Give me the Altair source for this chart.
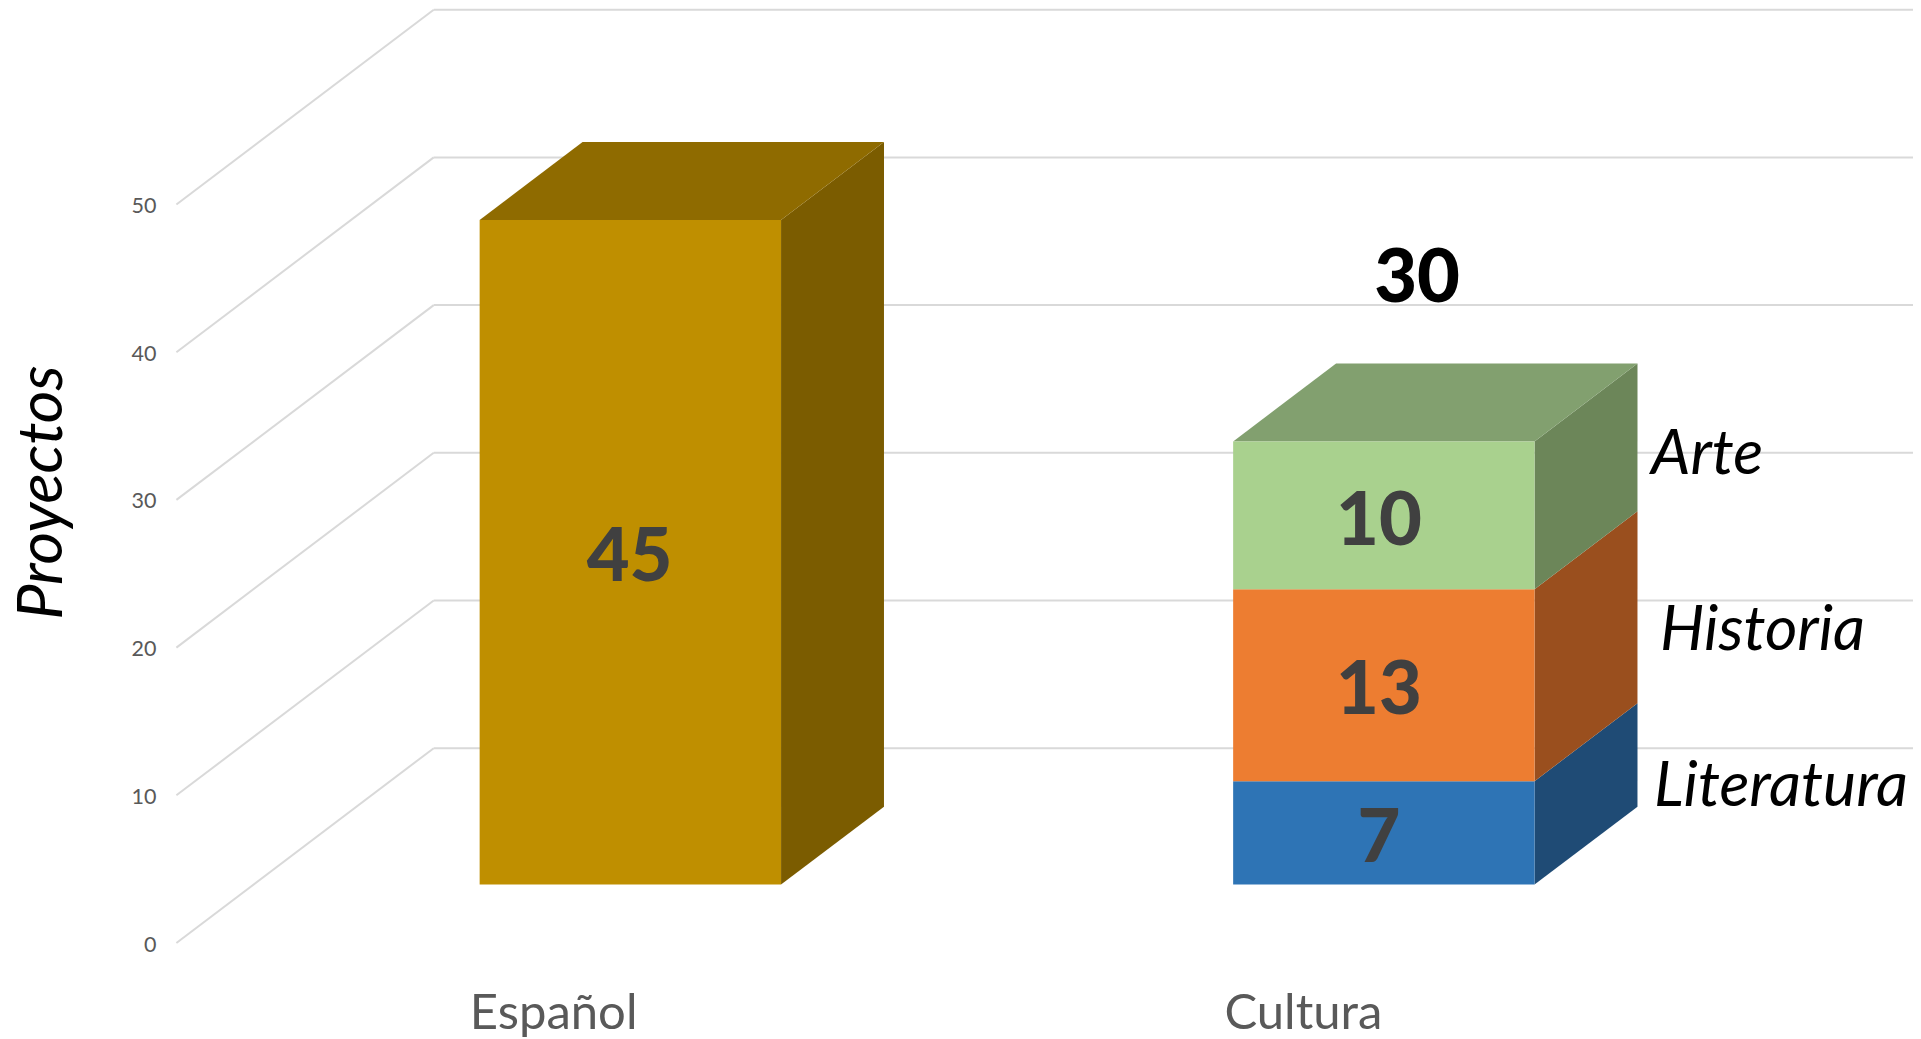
import altair as alt
import pandas as pd

# ---- values
categories = ["Español", "Cultura"]
espanol_value = [45]
cultura_series = ["Literatura", "Historia", "Arte"]
cultura_values = [7, 13, 10]
cultura_total = [30]
y_ticks = [0, 10, 20, 30, 40, 50]

# ---- styles
FONT = "Lato"
C_ESP = ("#BF8F00", "#7B5C00", "#8F6B00")
C_SER = {
    "Literatura": ("#2E74B5", "#1F4B75", "#2E74B5"),
    "Historia": ("#ED7D31", "#9A4F1E", "#ED7D31"),
    "Arte": ("#A9D18E", "#6C8659", "#82A06F"),
}
GRID = "#D9D9D9"

# ---- 3D layout (oblique projection, in scale units)
W, H = 1905, 1031
PX_X, PX_Y = 753.5, 14.77       # px per category slot / per value unit
X0, Y0 = 168.4, 935.0           # where slot 0 / value 0 fall on the plot
DX, DY = 0.3415, 13.19          # shift of the whole floor depth
GAP, BAR = 0.3, 0.4             # bar inset and width inside a slot
Z0, Z1 = 0.3, 0.7               # depth range of the bars

x_scale = alt.Scale(domain=[-X0 / PX_X, (W - X0) / PX_X], nice=False, zero=False)
y_scale = alt.Scale(domain=[(Y0 - H) / PX_Y, Y0 / PX_Y], nice=False, zero=False)


def px(u, z):
    return u + z * DX


def py(v, z):
    return v + z * DY


# grid: diagonal on the side wall + horizontal on the back wall
grid = []
for t in y_ticks:
    grid.append(dict(x=px(0, 0), y=py(t, 0), x2=px(0, 1), y2=py(t, 1)))
    grid.append(dict(x=px(0, 1), y=py(t, 1), x2=px(2, 1), y2=py(t, 1)))
grid = pd.DataFrame(grid)

# boxes
boxes = [(0, categories[0], 0, espanol_value[0], C_ESP, True)]
base = 0
for name, val in zip(cultura_series, cultura_values):
    boxes.append((1, name, base, base + val, C_SER[name], name == cultura_series[-1]))
    base += val

fronts, sides, tops = [], [], []
for slot, name, lo, hi, cols, has_top in boxes:
    u0, u1 = slot + GAP, slot + GAP + BAR
    fronts.append(dict(x=px(u0, Z0), x2=px(u1, Z0), y=py(lo, Z0), y2=py(hi, Z0), c=cols[0]))
    for z in (Z0, Z1):
        sides.append(dict(id=name, x=px(u1, z), y=py(lo, z), y2=py(hi, z), c=cols[1]))
    if has_top:
        for z in (Z0, Z1):
            tops.append(dict(id=name, y=py(hi, z), x=px(u0, z), x2=px(u1, z), c=cols[2]))
fronts, sides, tops = map(pd.DataFrame, (fronts, sides, tops))

# value labels in the middle of the front faces
LABEL_DROP = 0.49
CULTURA_SHIFT = -0.0065
vals = [dict(x=px(0.5, Z0) - 0.001, y=py(espanol_value[0] / 2, Z0) - LABEL_DROP, t=str(espanol_value[0]))]
base = 0
for val in cultura_values:
    vals.append(dict(x=px(1.5, Z0) + CULTURA_SHIFT, y=py(base + val / 2, Z0) - LABEL_DROP, t=str(val)))
    base += val
vals = pd.DataFrame(vals)

total = pd.DataFrame([dict(x=px(1.5, 0.435) - 0.002, y=py(cultura_total[0] + 9.15, 0.435), t=str(cultura_total[0]))])

# series names to the right of the stack
nudge = {"Arte": (0.018, -1.2), "Historia": (0.030, -1.6), "Literatura": (0.022, -2.2)}
names = []
base = 0
for name, val in zip(cultura_series, cultura_values):
    nx, ny = nudge[name]
    names.append(dict(x=px(1 + GAP + BAR, Z1) + nx, y=py(base + val / 2, Z1) + ny, t=name))
    base += val
names = pd.DataFrame(names)

label_expr = f"datum.value < 1 ? '{categories[0]}' : '{categories[1]}'"
x_axis = alt.Axis(
    values=[0.5, 1.495], labelExpr=label_expr, domain=False, ticks=False, grid=False,
    labelFont=FONT, labelFontSize=49, labelColor="#595959", labelBaseline="middle",
    labelPadding=0, offset=-25.5, labelOverlap=False, labelFlush=False)
y_axis = alt.Axis(
    values=y_ticks, domain=False, ticks=False, grid=False, format="d",
    labelFont=FONT, labelFontSize=21.5, labelColor="#595959", labelPadding=0, offset=-148,
    labelOffset=2,
    titleFont=FONT, titleFontSize=63, titleFontStyle="italic", titleFontWeight="normal",
    titleColor="#000000", titleAngle=-90, titleX=-114, titleY=484, titleAlign="center",
    titleBaseline="middle")

X = lambda: alt.X("x:Q", scale=x_scale, title=None, axis=x_axis)
Y = lambda: alt.Y("y:Q", scale=y_scale, title="Proyectos", axis=y_axis)

grid_l = alt.Chart(grid).mark_rule(color=GRID, strokeWidth=2).encode(x=X(), y=Y(), x2="x2:Q", y2="y2:Q")
side_l = alt.Chart(sides).mark_area(orient="vertical", strokeWidth=0, opacity=1).encode(
    x=X(), y=Y(), y2="y2:Q", detail="id:N", color=alt.Color("c:N", scale=None))
top_l = alt.Chart(tops).mark_area(orient="horizontal", strokeWidth=0, opacity=1).encode(
    x=X(), x2="x2:Q", y=Y(), detail="id:N", color=alt.Color("c:N", scale=None))
front_l = alt.Chart(fronts).mark_rect(strokeWidth=0).encode(
    x=X(), x2="x2:Q", y=Y(), y2="y2:Q", color=alt.Color("c:N", scale=None))
val_l = alt.Chart(vals).mark_text(font=FONT, fontSize=74, fontWeight=900, color="#404040", baseline="middle").encode(
    x=X(), y=Y(), text="t:N")
tot_l = alt.Chart(total).mark_text(font=FONT, fontSize=74, fontWeight=900, color="#000000", baseline="middle").encode(
    x=X(), y=Y(), text="t:N")
name_l = alt.Chart(names).mark_text(font=FONT, fontSize=62.5, fontStyle="italic", color="#000000", align="left", baseline="middle").encode(
    x=X(), y=Y(), text="t:N")

chart = alt.layer(grid_l, side_l, top_l, front_l, val_l, tot_l, name_l).properties(
    width=W, height=H, padding=0, autosize=alt.AutoSizeParams(type="none")
).configure_view(stroke=None)

chart.save("out.html", embed_options={"renderer": "svg", "actions": False})
